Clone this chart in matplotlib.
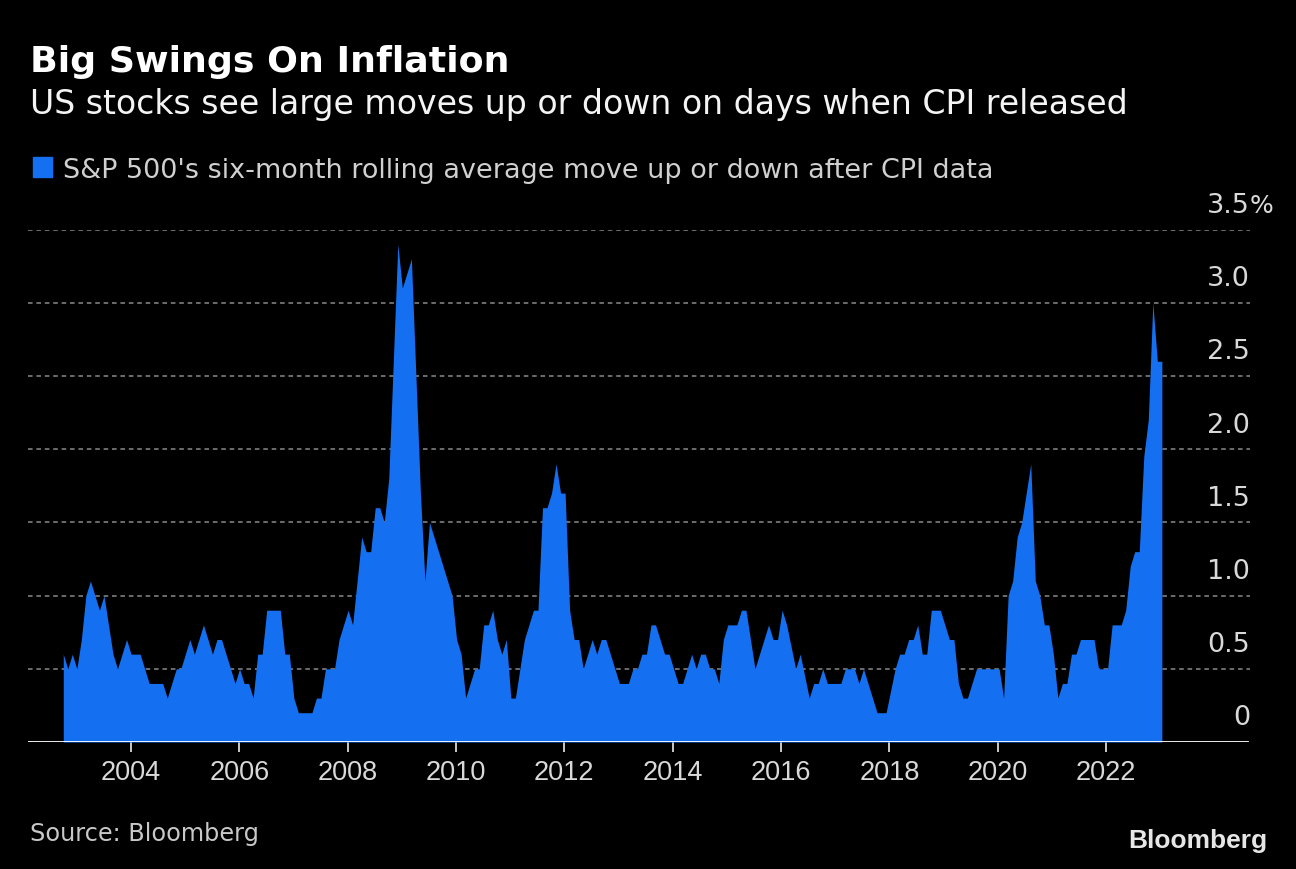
import numpy as np
import matplotlib.pyplot as plt
from matplotlib.patches import Rectangle

# S&P 500 six-month rolling average move (%) after CPI releases, monthly, Sep 2002 - Dec 2022
avg_move = [
    0.6, 0.5, 0.6, 0.5, 0.7, 1.0, 1.1, 1.0, 0.9, 1.0,
    0.8, 0.6, 0.5, 0.6, 0.7, 0.6, 0.6, 0.6, 0.5, 0.4,
    0.4, 0.4, 0.4, 0.3, 0.4, 0.5, 0.5, 0.6, 0.7, 0.6,
    0.7, 0.8, 0.7, 0.6, 0.7, 0.7, 0.6, 0.5, 0.4, 0.5,
    0.4, 0.4, 0.3, 0.6, 0.6, 0.9, 0.9, 0.9, 0.9, 0.6,
    0.6, 0.3, 0.2, 0.2, 0.2, 0.2, 0.3, 0.3, 0.5, 0.5,
    0.5, 0.7, 0.8, 0.9, 0.8, 1.1, 1.4, 1.3, 1.3, 1.6,
    1.6, 1.5, 1.8, 2.6, 3.4, 3.1, 3.2, 3.3, 2.5, 1.7,
    1.1, 1.5, 1.4, 1.3, 1.2, 1.1, 1.0, 0.7, 0.6, 0.3,
    0.4, 0.5, 0.5, 0.8, 0.8, 0.9, 0.7, 0.6, 0.7, 0.3,
    0.3, 0.5, 0.7, 0.8, 0.9, 0.9, 1.6, 1.6, 1.7, 1.9,
    1.7, 1.7, 0.9, 0.7, 0.7, 0.5, 0.6, 0.7, 0.6, 0.7,
    0.7, 0.6, 0.5, 0.4, 0.4, 0.4, 0.5, 0.5, 0.6, 0.6,
    0.8, 0.8, 0.7, 0.6, 0.6, 0.5, 0.4, 0.4, 0.5, 0.6,
    0.5, 0.6, 0.6, 0.5, 0.5, 0.4, 0.7, 0.8, 0.8, 0.8,
    0.9, 0.9, 0.7, 0.5, 0.6, 0.7, 0.8, 0.7, 0.7, 0.9,
    0.8, 0.65, 0.5, 0.6, 0.45, 0.3, 0.4, 0.4, 0.5, 0.4,
    0.4, 0.4, 0.4, 0.5, 0.5, 0.5, 0.4, 0.5, 0.4, 0.3,
    0.2, 0.2, 0.2, 0.35, 0.5, 0.6, 0.6, 0.7, 0.7, 0.8,
    0.6, 0.6, 0.9, 0.9, 0.9, 0.8, 0.7, 0.7, 0.4, 0.3,
    0.3, 0.4, 0.5, 0.5, 0.5, 0.5, 0.5, 0.5, 0.3, 1.0,
    1.1, 1.4, 1.5, 1.7, 1.9, 1.1, 1.0, 0.8, 0.8, 0.6,
    0.3, 0.4, 0.4, 0.6, 0.6, 0.7, 0.7, 0.7, 0.7, 0.5,
    0.5, 0.5, 0.8, 0.8, 0.8, 0.9, 1.2, 1.3, 1.3, 1.95,
    2.2, 3.0, 2.6, 2.6,
]
first_month = 2002.75          # end of September 2002, as a fractional year
year_ticks = list(range(2004, 2023, 2))
y_levels = [0, 0.5, 1.0, 1.5, 2.0, 2.5, 3.0, 3.5]
y_labels = ['0', '0.5', '1.0', '1.5', '2.0', '2.5', '3.0', '3.5']

blue = '#1470f0'
W, H = 1296, 870

fig = plt.figure(figsize=(W / 100, H / 100), dpi=100, facecolor='black')
ax = fig.add_axes([28 / W, (H - 743) / H, 1222 / W, 512.5 / H])
ax.set_facecolor('black')

# monthly points, spaced a shade over 1/12 year so the last lands on Jan 2023
x = first_month + np.arange(len(avg_move)) * (20.28 / 243)
ax.fill_between(x, 0, avg_move, color=blue, lw=0, zorder=2)

ax.set_xlim(2002.099, 2024.657)
ax.set_ylim(0, 3.5)

for lvl in y_levels[1:]:
    ax.axhline(lvl, color='#8a8a8a', lw=1.1, ls=(0, (3, 2.5)), zorder=1)
ax.axhline(0, color='white', lw=1.3, zorder=3, xmax=0.998)

for lvl, lab in zip(y_levels, y_labels):
    ax.text(1.0, lvl + 0.12, lab, transform=ax.get_yaxis_transform(),
            ha='right', va='baseline', fontsize=19.5, color='#d9d9d9')
ax.text(1.0, 3.5 + 0.12, '%', transform=ax.get_yaxis_transform(),
        ha='left', va='baseline', fontsize=18, color='#d9d9d9')

for side in ['top', 'right', 'left', 'bottom']:
    ax.spines[side].set_visible(False)
ax.set_yticks([])
ax.set_xticks(year_ticks)
ax.set_xticklabels([str(y) for y in year_ticks])
ax.tick_params(axis='x', length=7.5, width=1.1, color='white', pad=5,
               labelsize=19.5, labelcolor='#d9d9d9')
for lbl in ax.get_xticklabels():
    lbl.set_fontfamily('Liberation Sans')

fig.text(30 / W, 1 - 72 / H, 'Big Swings On Inflation', fontsize=26.2,
         fontweight='bold', color='white', va='baseline')
fig.text(30 / W, 1 - 114 / H,
         'US stocks see large moves up or down on days when CPI released',
         fontsize=23.85, color='#f4f4f4', va='baseline')
fig.patches.append(Rectangle((32.7 / W, 1 - 177.7 / H), 19 / W, 19.4 / H,
                             transform=fig.transFigure, color=blue))
fig.text(62.7 / W, 1 - 177.7 / H,
         "S&P 500's six-month rolling average move up or down after CPI data",
         fontsize=19.45, color='#d0d0d0', va='baseline')
fig.text(30 / W, 1 - 840.7 / H, 'Source: Bloomberg', fontsize=17.3,
         color='#c8c8c8', va='baseline')
fig.text(1267 / W, 1 - 848.3 / H, 'Bloomberg', fontsize=19,
         fontweight='bold', family='Liberation Sans', color='#e6e6e6',
         ha='right', va='baseline')

fig.savefig('out.png', dpi=100, facecolor='black')
